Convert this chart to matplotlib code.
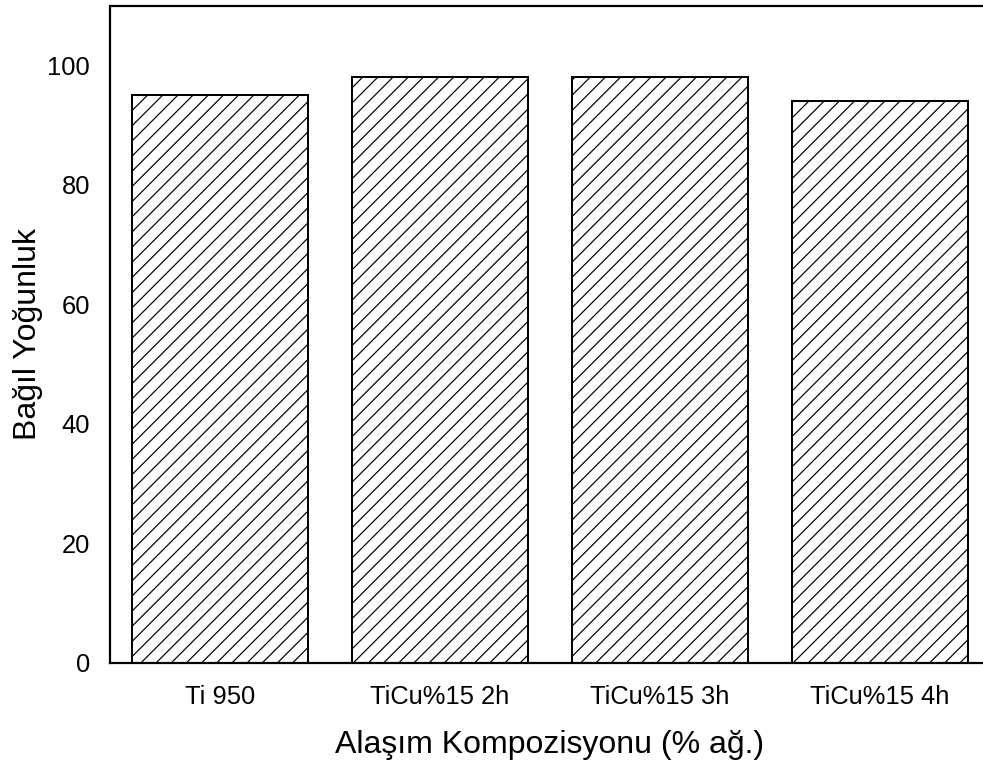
import matplotlib
matplotlib.use("Agg")
import matplotlib.pyplot as plt

categories = ["Ti 950", "TiCu%15 2h", "TiCu%15 3h", "TiCu%15 4h"]
relative_density = [95, 98, 98, 94]
y_ticks = [0, 20, 40, 60, 80, 100]

DPI = 91
PX = 72 / DPI  # points per pixel
plt.rcParams["font.family"] = ["Liberation Sans", "DejaVu Sans"]
plt.rcParams["hatch.linewidth"] = 1.0 * PX * 1.2
plt.rcParams["hatch.color"] = "#3a3a3a"

fig = plt.figure(figsize=(983 / DPI, 762 / DPI), dpi=DPI)
ax = fig.add_axes([110 / 983, 1 - 663 / 762, 880 / 983, (663 - 5.5) / 762])

x = range(len(categories))
ax.bar(x, relative_density, width=0.8, color="white", edgecolor="black",
       linewidth=2 * PX, hatch="//")

ax.set_xlim(-0.5, 3.5)
ax.set_ylim(0, 110)
ax.set_yticks(y_ticks)
ax.set_xticks(list(x))
ax.set_xticklabels(categories)
ax.tick_params(axis="both", length=0, labelsize=25.5 * PX)
ax.tick_params(axis="y", pad=20 * PX)
ax.tick_params(axis="x", pad=22 * PX)

for side in ["left", "bottom", "top"]:
    ax.spines[side].set_linewidth(2.2 * PX)
ax.spines["right"].set_visible(False)

ax.set_xlabel("Alaşım Kompozisyonu (% ağ.)", fontsize=32 * PX, labelpad=21 * PX)
ax.set_ylabel("Bağıl Yoğunluk", fontsize=32 * PX, labelpad=4 * PX)

fig.savefig("out.png", dpi=DPI)
